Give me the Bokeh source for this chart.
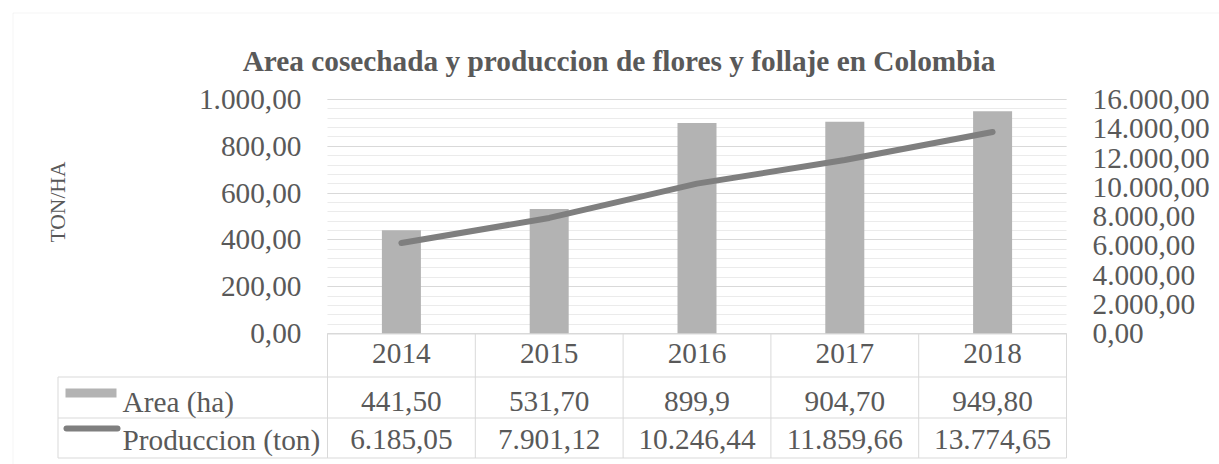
import math
from bokeh.plotting import figure
from bokeh.models import (Range1d, LinearAxis, FixedTicker, Grid, Label, BoxAnnotation,
                          AllLabels, ColumnDataSource)
from bokeh.core.properties import value
from bokeh.embed import file_html
from bokeh.resources import INLINE

# ---------------- data ----------------
years = ["2014", "2015", "2016", "2017", "2018"]
area_ha = [441.50, 531.70, 899.9, 904.70, 949.80]
produccion_ton = [6185.05, 7901.12, 10246.44, 11859.66, 13774.65]
area_labels = ["441,50", "531,70", "899,9", "904,70", "949,80"]
produccion_labels = ["6.185,05", "7.901,12", "10.246,44", "11.859,66", "13.774,65"]
left_ticks = [0, 200, 400, 600, 800, 1000]
left_minor_ticks = [0, 40, 80, 120, 160, 200, 240, 280, 320, 360, 400, 440, 480, 520, 560,
                    600, 640, 680, 720, 760, 800, 840, 880, 920, 960, 1000]
right_ticks = [0, 2000, 4000, 6000, 8000, 10000, 12000, 14000, 16000]
series_names = ["Area (ha)", "Produccion (ton)"]
title_text = "Area cosechada y produccion de flores y follaje en Colombia"
y_title = "TON/HA"

# ---------------- layout (canvas pixels) ----------------
W, H = 1219, 464
PL, PR, PT, PB = 327.0, 1066.0, 99.0, 333.0
n = len(years)
kx = (PR - PL) / n
x0 = -0.5 - PL / kx
x1 = x0 + W / kx
ymax = left_ticks[-1]
ky = (PB - PT) / ymax
y1 = ymax + PT / ky
y0 = y1 - H / ky
ratio = right_ticks[-1] / left_ticks[-1]


def dx(px):
    return x0 + px / kx


def dy(py):
    return y1 - py / ky


def es(v):
    s = f"{v:,.2f}"
    return s.replace(",", "X").replace(".", ",").replace("X", ".")


FONT = "Liberation Serif"
TXT = "#595959"
FS = "29.3px"
GRID_MAJOR = "#d9d9d9"
GRID_MINOR = "#ebebeb"
TABLE_LINE = "#d9d9d9"
BAR = "#b3b3b3"
LINE = "#7f7f7f"

p = figure(width=W, height=H, x_range=Range1d(x0, x1), y_range=Range1d(y0, y1),
           x_axis_type=None, y_axis_type=None, toolbar_location=None,
           output_backend="svg", min_border=0, min_border_left=0, min_border_right=0,
           min_border_top=0, min_border_bottom=0)
p.title.visible = False
p.outline_line_color = None
p.extra_y_ranges = {"prod": Range1d(y0 * ratio, y1 * ratio)}

# grid lines (only over the plot area)
p.add_layout(Grid(dimension=1, ticker=FixedTicker(ticks=left_minor_ticks),
                  bounds=(-1, ymax + 1), cross_bounds=(-0.5, n - 0.5),
                  grid_line_color=GRID_MINOR, grid_line_width=1))
p.add_layout(Grid(dimension=1, ticker=FixedTicker(ticks=left_ticks),
                  bounds=(-1, ymax + 1), cross_bounds=(-0.5, n - 0.5),
                  grid_line_color=GRID_MAJOR, grid_line_width=1))

src = ColumnDataSource(dict(x=list(range(n)), area=area_ha, prod=produccion_ton,
                            area_lbl=area_labels, prod_lbl=produccion_labels))

p.vbar(x="x", top="area", bottom=0, width=39 / kx, source=src,
       fill_color=BAR, line_color=None)
p.line(x="x", y="prod", y_range_name="prod", source=src, line_color=LINE,
       line_width=6, line_cap="round", line_join="round")


def style_axis(ax, standoff):
    ax.axis_line_color = None
    ax.major_tick_line_color = None
    ax.minor_tick_line_color = None
    ax.major_tick_out = 0
    ax.major_tick_in = 0
    ax.minor_tick_out = 0
    ax.minor_tick_in = 0
    ax.major_label_standoff = standoff
    ax.major_label_text_font = FONT
    ax.major_label_text_font_size = FS
    ax.major_label_text_color = TXT
    ax.major_label_policy = AllLabels()


ax_l = LinearAxis(fixed_location=-0.5, ticker=FixedTicker(ticks=left_ticks),
                  bounds=(0, ymax),
                  major_label_overrides={t: es(t) for t in left_ticks})
style_axis(ax_l, 26)
p.add_layout(ax_l, "left")

ax_r = LinearAxis(y_range_name="prod", fixed_location=n - 0.5,
                  ticker=FixedTicker(ticks=right_ticks), bounds=(0, right_ticks[-1]),
                  major_label_overrides={t: es(t) for t in right_ticks})
style_axis(ax_r, 26)
p.add_layout(ax_r, "right")

ax_b = LinearAxis(fixed_location=0, ticker=FixedTicker(ticks=list(range(n))),
                  bounds=(-0.5, n - 0.5),
                  major_label_overrides={i: y for i, y in enumerate(years)})
style_axis(ax_b, 10)
p.add_layout(ax_b, "below")

# ---------------- data table ----------------
row_edges = [PB + 0.5, 376.5, 417.5, 457.5]
table_left = 57.5
hy = [dy(v) for v in row_edges]
p.segment(x0=[-0.5] + [dx(table_left)] * 3, y0=hy, x1=[n - 0.5] * 4, y1=hy,
          line_color=TABLE_LINE, line_width=1)
bx = [i - 0.5 for i in range(n + 1)]
p.segment(x0=bx, y0=[0] * len(bx), x1=bx, y1=[hy[-1]] * len(bx),
          line_color=TABLE_LINE, line_width=1)
p.segment(x0=[dx(table_left)], y0=[hy[1]], x1=[dx(table_left)], y1=[hy[-1]],
          line_color=TABLE_LINE, line_width=1)

base1, base2 = 401, 439
p.text(x="x", y=dy(base1), text="area_lbl", source=src, text_align="center",
       text_baseline="alphabetic", text_font=value(FONT), text_font_size=FS,
       text_color=TXT)
p.text(x="x", y=dy(base2), text="prod_lbl", source=src, text_align="center",
       text_baseline="alphabetic", text_font=value(FONT), text_font_size=FS,
       text_color=TXT)

# legend keys inside the table
p.quad(left=[dx(65)], right=[dx(116)], top=[dy(388)], bottom=[dy(397)],
       fill_color=BAR, line_color=None)
p.segment(x0=[dx(66)], y0=[dy(428)], x1=[dx(117)], y1=[dy(428)], line_color=LINE,
          line_width=6, line_cap="round")
p.text(x=[dx(122)] * 2, y=[dy(base1), dy(base2)], text=series_names, text_align="left",
       text_baseline="alphabetic", text_font=value(FONT), text_font_size=FS,
       text_color=TXT)

# titles
p.add_layout(Label(x=618.5, y=H - 60, x_units="screen", y_units="screen", text=title_text,
                   text_align="center", text_baseline="alphabetic", text_font=FONT,
                   text_font_size="29.3px", text_font_style="bold", text_color=TXT))
p.add_layout(Label(x=57, y=H - 201.5, x_units="screen", y_units="screen", text=y_title,
                   angle=math.pi / 2, text_align="center", text_baseline="middle",
                   text_font=FONT, text_font_size="21.5px", text_color=TXT))

# chart border (top / left)
p.add_layout(BoxAnnotation(left=12.5, right=W + 20, top=H - 12.5, bottom=-20,
                           left_units="screen", right_units="screen",
                           top_units="screen", bottom_units="screen",
                           fill_color=None, fill_alpha=0, line_color="#d9d9d9",
                           line_width=1))

open("out.html", "w").write(file_html(p, INLINE))
